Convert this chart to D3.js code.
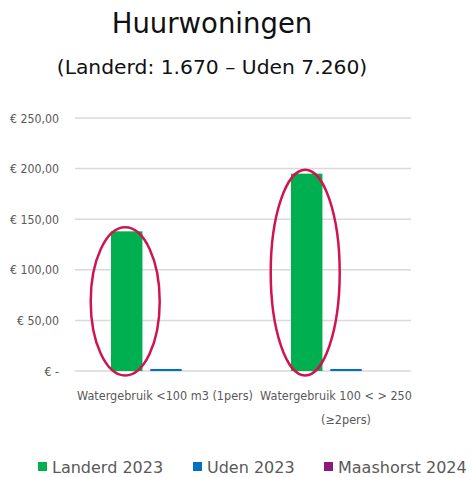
<!DOCTYPE html>
<html>
<head>
<meta charset="utf-8">
<script src="https://cdn.jsdelivr.net/npm/d3@7"></script>
<style>
  body { margin: 0; background: #fff; }
  svg { display: block; }
</style>
</head>
<body>
<svg id="chart" width="473" height="477"></svg>
<script>
const categories = [["Watergebruik <100 m3 (1pers)"], ["Watergebruik 100 < > 250", "(≥2pers)"]];
const series = ["Landerd 2023", "Uden 2023", "Maashorst 2024"];
const landerd2023 = [138, 195];
const uden2023 = [2, 2];
const maashorst2024 = [0, 0];
const yTicks = [0, 50, 100, 150, 200, 250];
const circled = [0]; // series index of the bars that got a red ring

const colors = ["#00b050", "#0070c0", "#8b1a7e"];
const values = [landerd2023, uden2023, maashorst2024];

const svg = d3.select("#chart");
const gridLeft = 75, gridRight = 411;
const plotTop = 118, plotBottom = 371;
const sans = "'DejaVu Sans', sans-serif";

const y = d3.scaleLinear().domain([0, 250]).range([plotBottom, plotTop]);
const x = d3.scaleBand().domain(d3.range(categories.length)).range([76, 436]);
const xs = d3.scaleBand().domain(d3.range(series.length))
  .range([35, x.bandwidth() - 35]).paddingInner(0.2);

// squeeze a text, the source font is much narrower
function squeeze(sel, factor) {
  sel.each(function() {
    const w = this.getComputedTextLength();
    d3.select(this).attr("textLength", w * factor).attr("lengthAdjust", "spacingAndGlyphs");
  });
}

// title
svg.append("text")
  .attr("x", 212).attr("y", 33)
  .attr("text-anchor", "middle")
  .style("font-family", sans)
  .style("font-size", "27.5px")
  .style("fill", "#111")
  .text("Huurwoningen");
svg.append("text")
  .attr("x", 212).attr("y", 74)
  .attr("text-anchor", "middle")
  .style("font-family", sans)
  .style("font-size", "20.3px")
  .style("fill", "#111")
  .text("(Landerd: 1.670 – Uden 7.260)");

// gridlines
svg.append("g")
  .selectAll("line")
  .data(yTicks)
  .join("line")
  .attr("x1", gridLeft).attr("x2", gridRight)
  .attr("y1", d => y(d)).attr("y2", d => y(d))
  .style("stroke", "#d9d9d9")
  .style("stroke-width", 1.5);

// y axis labels
const fmt = d => d === 0 ? "€ -" : "€ " + d3.format(".2f")(d).replace(".", ",");
svg.append("g")
  .selectAll("text")
  .data(yTicks)
  .join("text")
  .attr("x", 59)
  .attr("y", d => y(d) + 4.5)
  .attr("text-anchor", "end")
  .style("font-family", sans)
  .style("font-size", "12.5px")
  .style("fill", "#595959")
  .text(fmt)
  .call(squeeze, 0.88);

// bars
const points = [];
values.forEach((vals, s) => vals.forEach((v, c) => points.push({s: s, c: c, v: v})));

svg.append("g")
  .selectAll("rect")
  .data(points.filter(d => d.v > 0))
  .join("rect")
  .attr("x", d => x(d.c) + xs(d.s))
  .attr("width", xs.bandwidth())
  .attr("y", d => y(d.v))
  .attr("height", d => y(0) - y(d.v))
  .style("fill", d => colors[d.s]);

// red rings round the bars
svg.append("g")
  .selectAll("ellipse")
  .data(points.filter(d => circled.includes(d.s)))
  .join("ellipse")
  .attr("cx", d => x(d.c) + xs(d.s) + xs.bandwidth() / 2 - 1.5)
  .attr("cy", d => (y(d.v) - 4 + y(0) + 4.5) / 2)
  .attr("rx", 34.5)
  .attr("ry", d => (y(0) + 4.5 - (y(d.v) - 4)) / 2)
  .style("fill", "none")
  .style("stroke", "#d0144f")
  .style("stroke-width", 2.5);

// category labels; the source font is narrow, so squeeze a bit
const labelDx = [[-1], [-10, 0]];
categories.forEach((lines, c) => {
  lines.forEach((line, i) => {
    svg.append("text")
      .attr("text-anchor", "middle")
      .attr("x", x(c) + x.bandwidth() / 2 + labelDx[c][i])
      .attr("y", 400 + i * 24)
      .style("font-family", sans)
      .style("font-size", "12.5px")
      .style("fill", "#595959")
      .text(line)
      .call(squeeze, 0.9);
  });
});

// legend
const legendX = [38, 193, 324];
const legend = svg.append("g")
  .selectAll("g")
  .data(series)
  .join("g")
  .attr("transform", (d, i) => `translate(${legendX[i]},462)`);
legend.append("rect")
  .attr("width", 9).attr("height", 9)
  .style("fill", (d, i) => colors[i]);
legend.append("text")
  .attr("x", 14).attr("y", 10.5)
  .style("font-family", sans)
  .style("font-size", "16px")
  .style("fill", "#595959")
  .text(d => d);
</script>
</body>
</html>
